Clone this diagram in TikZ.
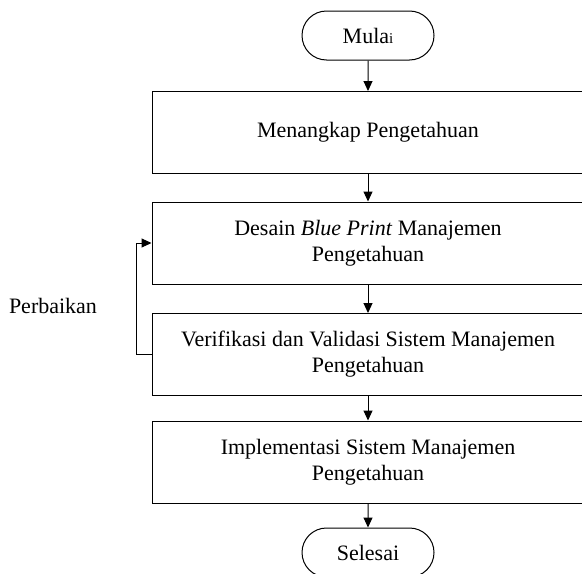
\documentclass[tikz,border=0pt]{standalone}
\usepackage{fontspec}
\setmainfont{Liberation Serif}
\usetikzlibrary{shapes.misc,arrows.meta}

\tikzset{
  flowbox/.style={draw, line width=0.5pt, rectangle, minimum width=216pt, minimum height=41pt, align=center, inner sep=0pt},
  termbox/.style={draw, line width=0.5pt, rounded rectangle, minimum width=66pt, minimum height=24.5pt, inner sep=0pt},
  flowarrow/.style={draw, line width=0.5pt, -{Triangle[length=5pt,width=4.5pt]}}
}

\begin{document}
\begin{tikzpicture}[x=0.5pt, y=-0.5pt, font=\fontsize{11}{13}\selectfont]

\useasboundingbox (0,0) rectangle (582,573);


\node[termbox] (mulai) at (368, 35.5) {Mula{\fontsize{7.5}{9}\selectfont i}};

\node[flowbox] (tangkap) at (368, 132.5) {Menangkap Pengetahuan};
\node[flowbox] (desain) at (368, 243) {Desain \textit{Blue Print} Manajemen\\Pengetahuan};
\node[flowbox] (verif) at (368, 354.5) {Verifikasi dan Validasi Sistem Manajemen\\Pengetahuan};
\node[flowbox] (impl) at (368, 462) {Implementasi Sistem Manajemen\\Pengetahuan};

\node[termbox] (selesai) at (368, 552.5) {Selesai};


\draw[flowarrow] (mulai) -- (tangkap);
\draw[flowarrow] (tangkap) -- (desain);
\draw[flowarrow] (desain) -- (verif);
\draw[flowarrow] (verif) -- (impl);
\draw[flowarrow] (impl) -- (selesai);


% loop balik
\coordinate (balik) at (136, 354.5);
\draw[line width=0.5pt] (verif.west) -- (balik);
\draw[flowarrow] (balik) |- (desain.west);

\node (perbaikan) at (53, 306) {Perbaikan};

\end{tikzpicture}
\end{document}
